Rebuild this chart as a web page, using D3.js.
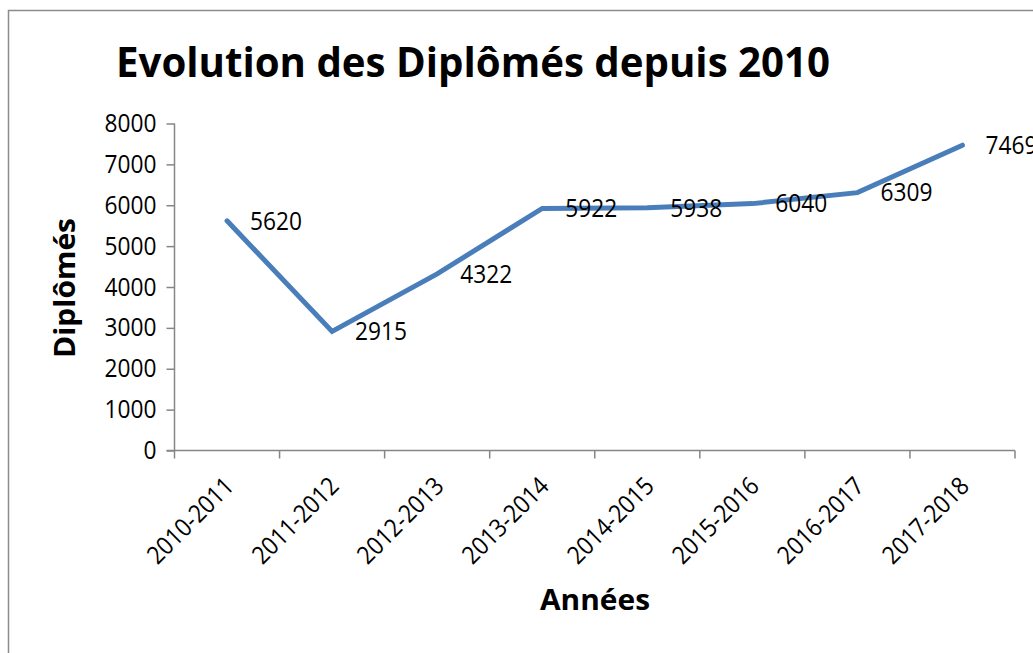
<!DOCTYPE html>
<html>
<head>
<meta charset="utf-8">
<script src="https://cdn.jsdelivr.net/npm/d3@7"></script>
<style>
  body { margin: 0; background: #fff; }
  svg { display: block; }
  text { font-family: "Open Sans", "DejaVu Sans", sans-serif; fill: #000; }
</style>
</head>
<body>
<svg id="chart" width="1033" height="653"></svg>
<script>
const categories = ["2010-2011","2011-2012","2012-2013","2013-2014","2014-2015","2015-2016","2016-2017","2017-2018"];
const values = [5620, 2915, 4322, 5922, 5938, 6040, 6309, 7469];
const yTicks = [0, 1000, 2000, 3000, 4000, 5000, 6000, 7000, 8000];
const titleText = "Evolution des Diplômés depuis 2010";
const xTitle = "Années";
const yTitle = "Diplômés";

const svg = d3.select("#chart");
const axisColor = "#868686";
const fs = 25;          // label font size
const digitW = 13;      // narrow, Calibri-like digit advance

// outer chart border
svg.append("rect")
  .attr("x", 8.5).attr("y", 10.5)
  .attr("width", 1100).attr("height", 700)
  .attr("fill", "none").attr("stroke", "#8c8c8c").attr("stroke-width", 1.5);

const x = d3.scaleBand().domain(categories).range([174.5, 1015]).padding(0);
const y = d3.scaleLinear().domain([0, 8000]).range([450.5, 123.5]);

// title
svg.append("text")
  .attr("x", 473).attr("y", 77)
  .attr("text-anchor", "middle")
  .attr("font-size", 41).attr("font-weight", "bold")
  .attr("textLength", 714).attr("lengthAdjust", "spacingAndGlyphs")
  .text(titleText);

// y axis
const yAxis = svg.append("g")
  .attr("transform", "translate(174.5,0)")
  .call(d3.axisLeft(y).tickValues(yTicks).tickSize(8).tickPadding(10).tickFormat(d3.format("d")));
yAxis.selectAll("path, line").attr("stroke", axisColor).attr("stroke-width", 1.5);
yAxis.select(".domain").attr("d", `M-0,${y(8000)}V${y(0)}`);
yAxis.selectAll("text")
  .attr("font-size", fs).attr("font-family", "Open Sans").attr("fill", "#000")
  .attr("textLength", d => String(d).length * digitW).attr("lengthAdjust", "spacingAndGlyphs");

// x axis with ticks at category boundaries
const xAxisG = svg.append("g").attr("transform", `translate(0,${y(0)})`);
xAxisG.append("line")
  .attr("x1", 174.5 - 8).attr("x2", 1015)
  .attr("stroke", axisColor).attr("stroke-width", 1.5);
const boundaries = categories.map(c => x(c)).concat([x(categories[categories.length-1]) + x.bandwidth()]);
xAxisG.selectAll("line.tick").data(boundaries).enter().append("line")
  .attr("class", "tick")
  .attr("x1", d => d).attr("x2", d => d)
  .attr("y1", 0).attr("y2", 8)
  .attr("stroke", axisColor).attr("stroke-width", 1.5);
svg.selectAll("text.xlab").data(categories).enter().append("text")
  .attr("class", "xlab")
  .attr("transform", d => `translate(${x(d) + x.bandwidth()/2 + 2},${y(0) + 31}) rotate(-45)`)
  .attr("text-anchor", "end")
  .attr("dy", "0.35em")
  .attr("font-size", fs)
  .attr("textLength", 110).attr("lengthAdjust", "spacingAndGlyphs")
  .text(d => d);

// line
const line = d3.line()
  .x((d, i) => x(categories[i]) + x.bandwidth()/2)
  .y(d => y(d));
svg.append("path")
  .datum(values)
  .attr("d", line)
  .attr("fill", "none")
  .attr("stroke", "#4a7ebb")
  .attr("stroke-width", 5)
  .attr("stroke-linejoin", "miter")
  .attr("stroke-linecap", "round");

// data labels
svg.selectAll("text.dlab").data(values).enter().append("text")
  .attr("class", "dlab")
  .attr("x", (d, i) => x(categories[i]) + x.bandwidth()/2 + 23)
  .attr("y", d => y(d))
  .attr("dy", "0.35em")
  .attr("font-size", fs)
  .attr("textLength", d => String(d).length * digitW).attr("lengthAdjust", "spacingAndGlyphs")
  .text(d => d);

// axis titles
svg.append("text")
  .attr("x", 595).attr("y", 610)
  .attr("text-anchor", "middle")
  .attr("font-size", 29).attr("font-weight", "bold")
  .attr("textLength", 110).attr("lengthAdjust", "spacingAndGlyphs")
  .text(xTitle);
svg.append("text")
  .attr("transform", "translate(75,288) rotate(-90)")
  .attr("text-anchor", "middle")
  .attr("font-size", 29).attr("font-weight", "bold")
  .attr("textLength", 140).attr("lengthAdjust", "spacingAndGlyphs")
  .text(yTitle);
</script>
</body>
</html>
